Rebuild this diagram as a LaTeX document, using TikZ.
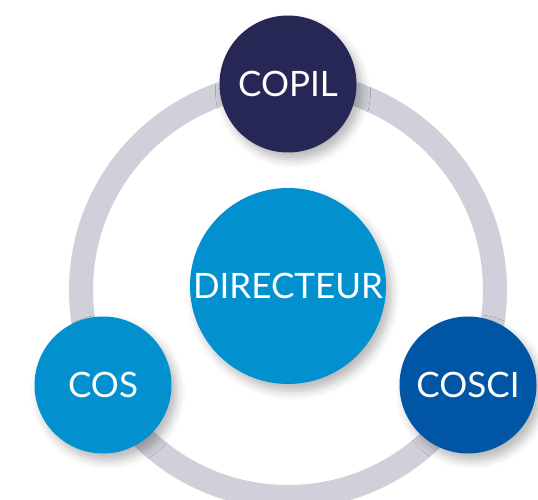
\documentclass[tikz,border=0pt]{standalone}
\usepackage{fontspec}
\setmainfont{Lato}
\usetikzlibrary{shadows.blur}

\definecolor{navy}{HTML}{262755}
\definecolor{sky}{HTML}{0290CF}
\definecolor{royal}{HTML}{0055A4}
\definecolor{ringgrey}{HTML}{D0D0DA}

\tikzstyle{org}=[circle, minimum size=137pt, inner sep=0pt, text=white,
  font=\fontsize{35}{38}\selectfont,
  blur shadow={shadow xshift=5pt, shadow yshift=-7pt, shadow blur radius=9pt, shadow opacity=28}]
\tikzstyle{ring}=[ringgrey, line width=24pt]

\begin{document}
\begin{tikzpicture}[x=1pt, y=-1pt]
    \useasboundingbox (0, 0) rectangle (538, 500);
    \draw[ring] (288, 290) circle (207);
    \node[org, fill=navy] (copil) at (288, 84) {COPIL};
    \node[org, fill=sky] (cos) at (103, 385) {COS};
    \node[org, fill=royal] (cosci) at (468, 385) {COSCI};
    \node[org, fill=sky, minimum size=196pt] (directeur) at (288, 286) {DIRECTEUR};
  \end{tikzpicture}
\end{document}
